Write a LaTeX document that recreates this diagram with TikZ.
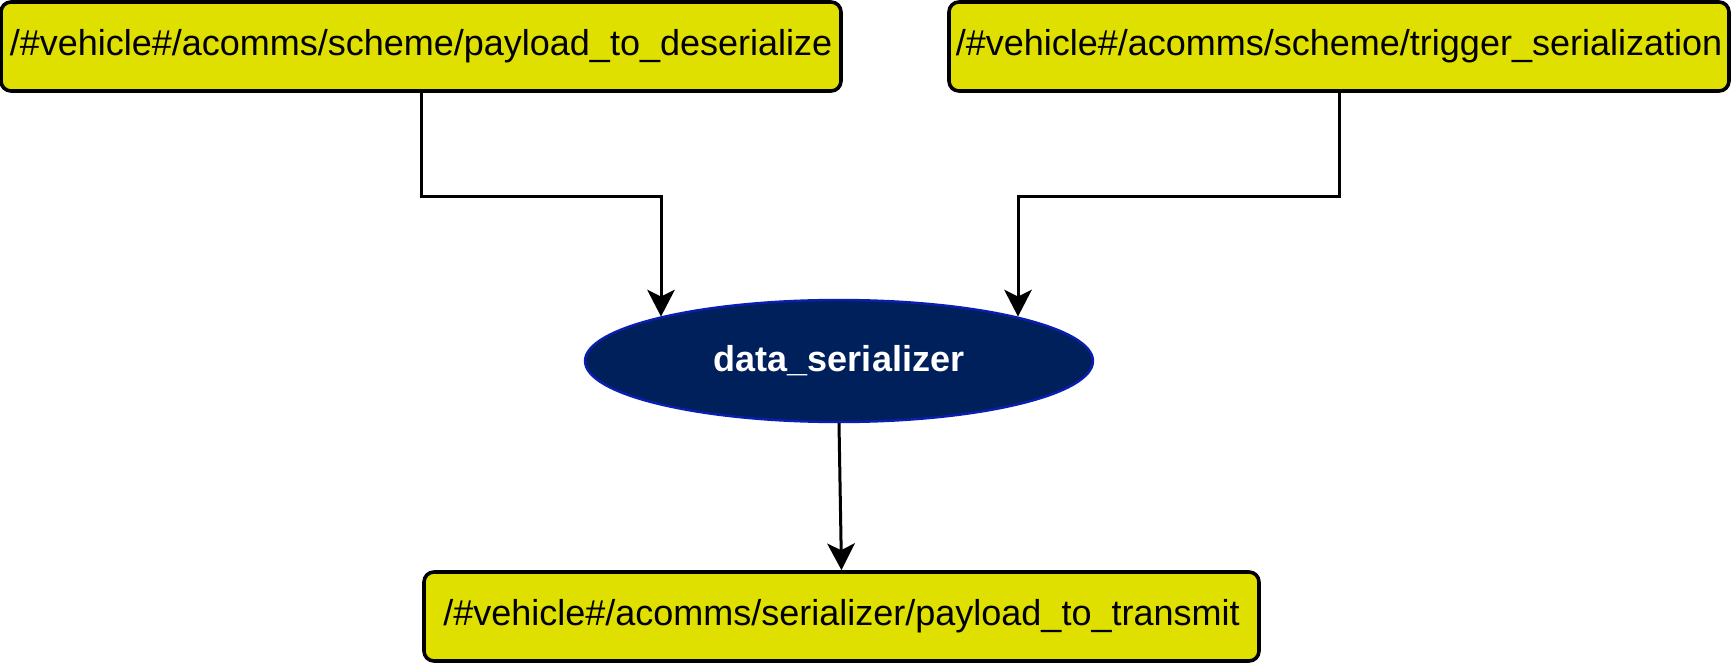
\documentclass[tikz,border=0pt]{standalone}
\usepackage{fontspec}
\setmainfont{Liberation Sans}
\usepackage{tikz}
\usetikzlibrary{shapes.geometric,arrows.meta,calc}
\definecolor{topicyellow}{HTML}{E0E000}
\definecolor{nodenavy}{HTML}{00205C}
\definecolor{nodeedge}{HTML}{0A1FB0}
\tikzset{
topic/.style={
		draw=black,
		fill=topicyellow,
		rounded corners=5pt,
		line width=1.8pt,
		minimum height=44.5pt,
		inner sep=0pt,
		font=\fontsize{18}{20}\selectfont
	},
rosnode/.style={
		draw=nodeedge,
		fill=nodenavy,
		ellipse,
		line width=1.2pt,
		minimum width=254pt,
		minimum height=61pt,
		inner sep=0pt,
		text=white,
		font=\fontsize{18}{20}\selectfont\bfseries
	},
flow/.style={
		draw=black,
		line width=1.5pt,
		-{Stealth[length=13.5pt,width=14pt,inset=3.5pt,fill=black,line width=0pt]}
	}
}

\begin{document}
\begin{tikzpicture}
			\useasboundingbox (0pt,0pt) rectangle (865.5pt,-331.5pt);
			\node[topic,minimum width=420pt] (deser) at (210.5pt,-23.25pt) {/\#vehicle\#/acomms/scheme/payload\_to\_deserialize};
			\node[topic,minimum width=390pt] (trigger) at (669.5pt,-23.25pt) {/\#vehicle\#/acomms/scheme/trigger\_serialization};
			\node[rosnode] (ser) at (419.5pt,-180.5pt) {data\_serializer};
			\node[topic,minimum width=417.5pt] (transmit) at (420.75pt,-308.25pt) {/\#vehicle\#/acomms/serializer/payload\_to\_transmit};
			\coordinate (lbend) at (330.5pt,-98.5pt);
			\coordinate (rbend) at (509pt,-98.5pt);
			\draw[flow] (deser.south) |- (lbend) -- (lbend |- ser.166);
			\draw[flow] (trigger.south) |- (rbend) -- (rbend |- ser.14);
			\draw[flow] (ser.south) -- (transmit.north);
			\end{tikzpicture}
\end{document}
